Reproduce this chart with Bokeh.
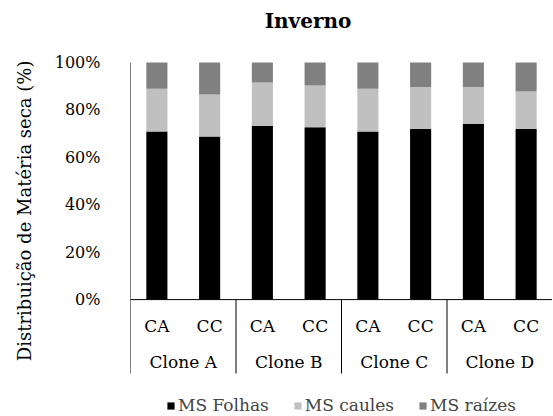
from bokeh.plotting import figure
from bokeh.models import (FactorRange, Range1d, FixedTicker, PrintfTickFormatter,
                          Legend, LegendItem, ColumnDataSource, Label)
from bokeh.core.properties import value
from bokeh.embed import file_html
from bokeh.resources import INLINE

# ---- data ----
clones = ["Clone A", "Clone B", "Clone C", "Clone D"]
treatments = ["CA", "CC"]
ms_folhas = [70.9, 68.8, 73.3, 72.7, 70.9, 72.0, 74.1, 72.0]
ms_caules = [18.1, 17.7, 18.3, 17.6, 18.1, 17.7, 15.6, 15.8]
ms_raizes = [11.0, 13.5, 8.4, 9.7, 11.0, 10.3, 10.3, 12.2]
y_ticks = [0, 20, 40, 60, 80, 100]
series_names = ["MS Folhas", "MS caules", "MS raízes"]
colors = ["#000000", "#C0C0C0", "#808080"]
title_text = "Inverno"
y_label_text = "Distribuição  de Matéria seca (%)"

FONT = "DejaVu Serif"
Y_MAX = 126.2      # top of drawing area (title band)
Y_LOW = -31.2      # bottom of category-label band
Y_MIN = -48.9      # bottom of drawing area (legend band)

factors = [(c, t) for c in clones for t in treatments]
x_range = FactorRange(*factors, factor_padding=0, group_padding=0, range_padding=0)

p = figure(width=552, height=415, x_range=x_range, y_range=Range1d(Y_MIN, Y_MAX),
           title=None, output_backend="svg", toolbar_location=None)
p.min_border = 0
p.min_border_left = 130

p.outline_line_color = None
p.grid.visible = False
p.xaxis.visible = False

# y axis
p.yaxis.ticker = FixedTicker(ticks=y_ticks)
p.yaxis.formatter = PrintfTickFormatter(format="%d%%")
p.yaxis.major_tick_line_color = None
p.yaxis.minor_tick_line_color = None
p.yaxis.major_label_text_font = FONT
p.yaxis.major_label_text_font_size = "16px"
p.yaxis.major_label_text_color = "#000000"
p.yaxis.major_label_standoff = 24
p.yaxis.axis_line_color = None
p.yaxis.axis_label = y_label_text
p.yaxis.axis_label_text_font = FONT
p.yaxis.axis_label_text_font_size = "18px"
p.yaxis.axis_label_text_font_style = "normal"
p.yaxis.axis_label_text_color = "#000000"
p.yaxis.axis_label_standoff = 17

# stacked bars
src = ColumnDataSource(dict(x=factors, folhas=ms_folhas, caules=ms_caules, raizes=ms_raizes))
renderers = p.vbar_stack(["folhas", "caules", "raizes"], x="x", width=0.4, source=src,
                         color=colors, line_color=None)

# axis lines and group separators (synthetic categorical coordinates)
n = len(factors)
k = len(treatments)
p.segment(x0=[0], x1=[n], y0=[0], y1=[0], line_color="#000000", line_width=1)
sep_x = [i * k for i in range(0, len(clones) + 1)]
sep_top = [max(y_ticks)] + [0] * len(clones)
p.segment(x0=sep_x, x1=sep_x, y0=sep_top, y1=[Y_LOW] * len(sep_x),
          line_color="#000000", line_width=1)

# category labels
p.text(x=[i + 0.5 for i in range(n)], y=[-11] * n, text=[t for c, t in factors], text_font=value(FONT),
       text_font_size="17px", text_align="center", text_baseline="middle", text_color="#000000")
p.text(x=[g * k + k / 2 for g in range(len(clones))], y=[-26.4] * len(clones), text=clones,
       text_font=value(FONT), text_font_size="17px", text_align="center",
       text_baseline="middle", text_color="#000000")

# title
p.add_layout(Label(x=3.365, y=117.7, text=title_text, text_font=FONT, text_font_size="20px",
                   text_font_style="bold", text_align="center", text_baseline="middle",
                   text_color="#000000"))

legend = Legend(items=[LegendItem(label=nm, renderers=[r]) for nm, r in zip(series_names, renderers)],
                orientation="horizontal", location="bottom_center",
                glyph_width=9, glyph_height=9, label_standoff=3, spacing=24,
                label_text_font=FONT, label_text_font_size="17px",
                border_line_color=None, background_fill_alpha=0, padding=0, margin=0)
p.add_layout(legend)

open("out.html", "w").write(file_html(p, INLINE))
